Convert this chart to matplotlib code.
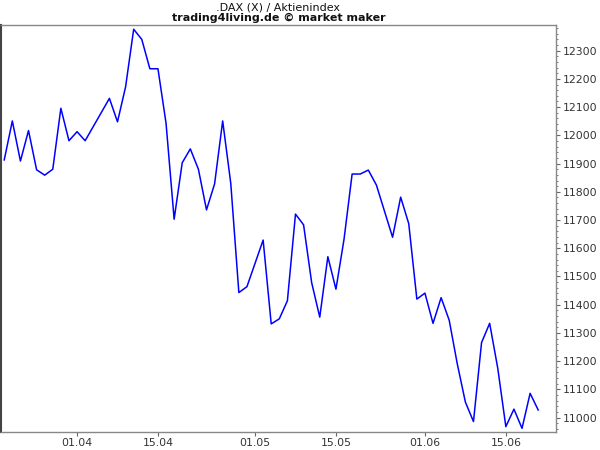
import numpy as np
import matplotlib
matplotlib.use('Agg')
import matplotlib.pyplot as plt
from matplotlib.ticker import MultipleLocator

# DAX Schlusskurse, nur Handelstage
dates = ['2015-03-19', '2015-03-20', '2015-03-23', '2015-03-24', '2015-03-25', '2015-03-26',
         '2015-03-27', '2015-03-30', '2015-03-31', '2015-04-01', '2015-04-02', '2015-04-07',
         '2015-04-08', '2015-04-09', '2015-04-10', '2015-04-13', '2015-04-14', '2015-04-15',
         '2015-04-16', '2015-04-17', '2015-04-20', '2015-04-21', '2015-04-22', '2015-04-23',
         '2015-04-24', '2015-04-27', '2015-04-28', '2015-04-29', '2015-04-30', '2015-05-04',
         '2015-05-05', '2015-05-06', '2015-05-07', '2015-05-08', '2015-05-11', '2015-05-12',
         '2015-05-13', '2015-05-14', '2015-05-15', '2015-05-18', '2015-05-19', '2015-05-20',
         '2015-05-21', '2015-05-22', '2015-05-26', '2015-05-27', '2015-05-28', '2015-05-29',
         '2015-06-01', '2015-06-02', '2015-06-03', '2015-06-04', '2015-06-05', '2015-06-08',
         '2015-06-09', '2015-06-10', '2015-06-11', '2015-06-12', '2015-06-15', '2015-06-16',
         '2015-06-17', '2015-06-18', '2015-06-19']
close = [11913, 12051, 11909, 12017, 11878, 11859,
         11880, 12096, 11981, 12013, 11981, 12131,
         12048, 12172, 12376, 12340, 12236, 12236,
         12043, 11703, 11903, 11952, 11880, 11736,
         11828, 12051, 11830, 11443, 11464, 11629,
         11332, 11350, 11414, 11721, 11683, 11478,
         11356, 11570, 11455, 11632, 11863, 11863,
         11877, 11824, 11639, 11781, 11687, 11420,
         11441, 11334, 11425, 11345, 11190, 11055,
         10986, 11266, 11334, 11175, 10968, 11030,
         10962, 11086, 11027]

tick_dates = ['2015-04-01', '2015-04-15', '2015-05-01', '2015-05-15', '2015-06-01', '2015-06-15']
tick_labels = ['01.04', '15.04', '01.05', '15.05', '01.06', '15.06']

start = dates[0]
x = np.busday_count(start, dates)
xt = np.busday_count(start, tick_dates)

fig = plt.figure(figsize=(6, 4.5), dpi=100)
ax = fig.add_axes([1/600, 18/450, 555/600, 407/450])
ax.plot(x, close, color='#0000ff', lw=1.1)

ax.set_xlim(-0.4, 68.2)
ax.set_ylim(10949, 12391)

ax.yaxis.tick_right()
ax.yaxis.set_major_locator(MultipleLocator(100))
ax.yaxis.set_minor_locator(MultipleLocator(20))
ax.set_xticks(xt)
ax.set_xticklabels(tick_labels)
ax.tick_params(axis='both', which='major', labelsize=7.8, labelcolor='#333333',
               color='#666666', length=3, width=0.8, pad=2)
ax.tick_params(axis='x', which='major', pad=1)
ax.tick_params(axis='y', which='minor', length=1.5, color='#666666', width=0.6)

for s in ['top', 'right', 'bottom']:
    ax.spines[s].set_color('#888888')
    ax.spines[s].set_linewidth(1)
ax.spines['left'].set_color('#444444')
ax.spines['left'].set_linewidth(1.5)

cx = 0.5 * (1 + 556) / 600
fig.text(cx, 1 - 7/450, '.DAX (X) / Aktienindex', ha='center', va='center',
         fontsize=8, color='#111111')
fig.text(cx, 1 - 18/450, 'trading4living.de \u00a9 market maker', ha='center',
         va='center', fontsize=8, fontweight='bold', color='#111111')

plt.savefig('out.png', dpi=100)
plt.close(fig)
